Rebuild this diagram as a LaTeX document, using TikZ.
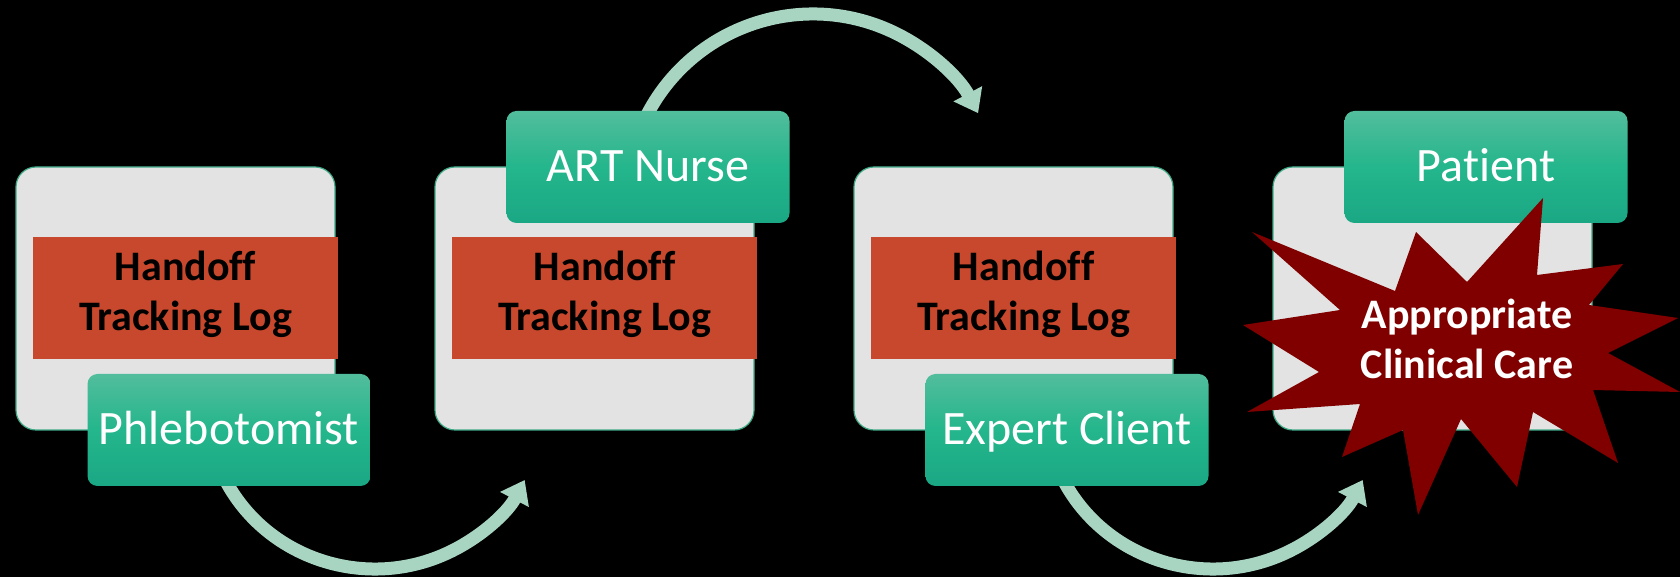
\documentclass[tikz,border=0pt]{standalone}
\usepackage{fontspec}
\setmainfont{Carlito}[Ligatures=CommonOff]
\usetikzlibrary{arrows.meta}
\definecolor{panelgray}{HTML}{E3E3E3}
\definecolor{paneledge}{HTML}{3EAA88}
\definecolor{logred}{HTML}{C7482C}
\definecolor{roletop}{HTML}{52BD9C}
\definecolor{rolemid}{HTML}{24B68C}
\definecolor{rolebot}{HTML}{1AA884}
\definecolor{flowmint}{HTML}{A8D4C2}
\definecolor{burst}{HTML}{800000}

\begin{document}
\begin{tikzpicture}[x=1pt,y=1pt,
  panel/.style={draw=paneledge, line width=1.2pt, fill=panelgray, rounded corners=20pt,
    minimum width=319pt, minimum height=263pt, inner sep=0pt},
  logbar/.style={fill=logred, minimum width=305pt, minimum height=122pt, inner sep=0pt},
  logtext/.style={font=\bfseries\fontsize{42}{50}\selectfont, align=center, text=black, inner sep=0pt},
  role/.style={rounded corners=10pt, top color=roletop, bottom color=rolebot, middle color=rolemid,
    minimum width=283pt, minimum height=112pt, inner sep=0pt, text=white,
    font=\fontsize{48}{56}\selectfont, text height=30pt, text depth=0pt},
  flow/.style={draw=flowmint, line width=13pt, -{Triangle[length=22pt,width=31pt]}},
  caretext/.style={font=\bfseries\fontsize{42}{50}\selectfont, align=center, text=white, inner sep=0pt},
]
% canvas
\fill[black] (0,0) rectangle (1680,577);
\useasboundingbox (0,0) rectangle (1680,577);

% centres of the curved hand-over arrows
\coordinate (c1) at (375,171);
\coordinate (c2) at (813,376);
\coordinate (c3) at (1213,171);

\draw[flow] (c1) ++(205:168 and 163) arc[start angle=205, end angle=333, x radius=168, y radius=163];
\draw[flow] (c2) ++(155:187) arc[start angle=155, end angle=28, radius=187];
\draw[flow] (c3) ++(205:168 and 163) arc[start angle=205, end angle=333, x radius=168, y radius=163];

% grey panels
\node[panel] (p1) at (175.5,278.5) {};
\node[panel] (p2) at (594.5,278.5) {};
\node[panel] (p3) at (1013.5,278.5) {};
\node[panel] (p4) at (1432.5,278.5) {};

% tracking-log bars
\node[logbar] (r1) at (185.5,279) {};
\node[logbar] (r2) at (604.5,279) {};
\node[logbar] (r3) at (1023.5,279) {};
\node[logtext] (t1) at ([yshift=3.5pt]r1.center) {Handoff\\Tracking Log};
\node[logtext] (t2) at ([yshift=3.5pt]r2.center) {Handoff\\Tracking Log};
\node[logtext] (t3) at ([yshift=3.5pt]r3.center) {Handoff\\Tracking Log};

% role tabs
\node[role] (g1) at (229,147) {Phlebotomist};
\node[role] (g2) at (648,410) {ART Nurse};
\node[role] (g3) at (1067,147) {Expert Client};
\node[role] (g4) at (1486,410) {Patient};

% outcome burst
\fill[burst] (1543,379) -- (1537,302) -- (1623,313) -- (1589,272) -- (1678,259)
  -- (1608,224) -- (1680,185) -- (1593,187) -- (1618,114) -- (1533,165)
  -- (1517,90) -- (1461,158) -- (1418,62) -- (1403,147) -- (1342,120)
  -- (1360,173) -- (1247,165) -- (1319,205) -- (1243,252) -- (1340,267)
  -- (1252,345) -- (1395,286) -- (1416,345) -- (1467,295) -- cycle;
\node[caretext] (care) at (1467,238) {Appropriate\\Clinical Care};
\end{tikzpicture}
\end{document}
